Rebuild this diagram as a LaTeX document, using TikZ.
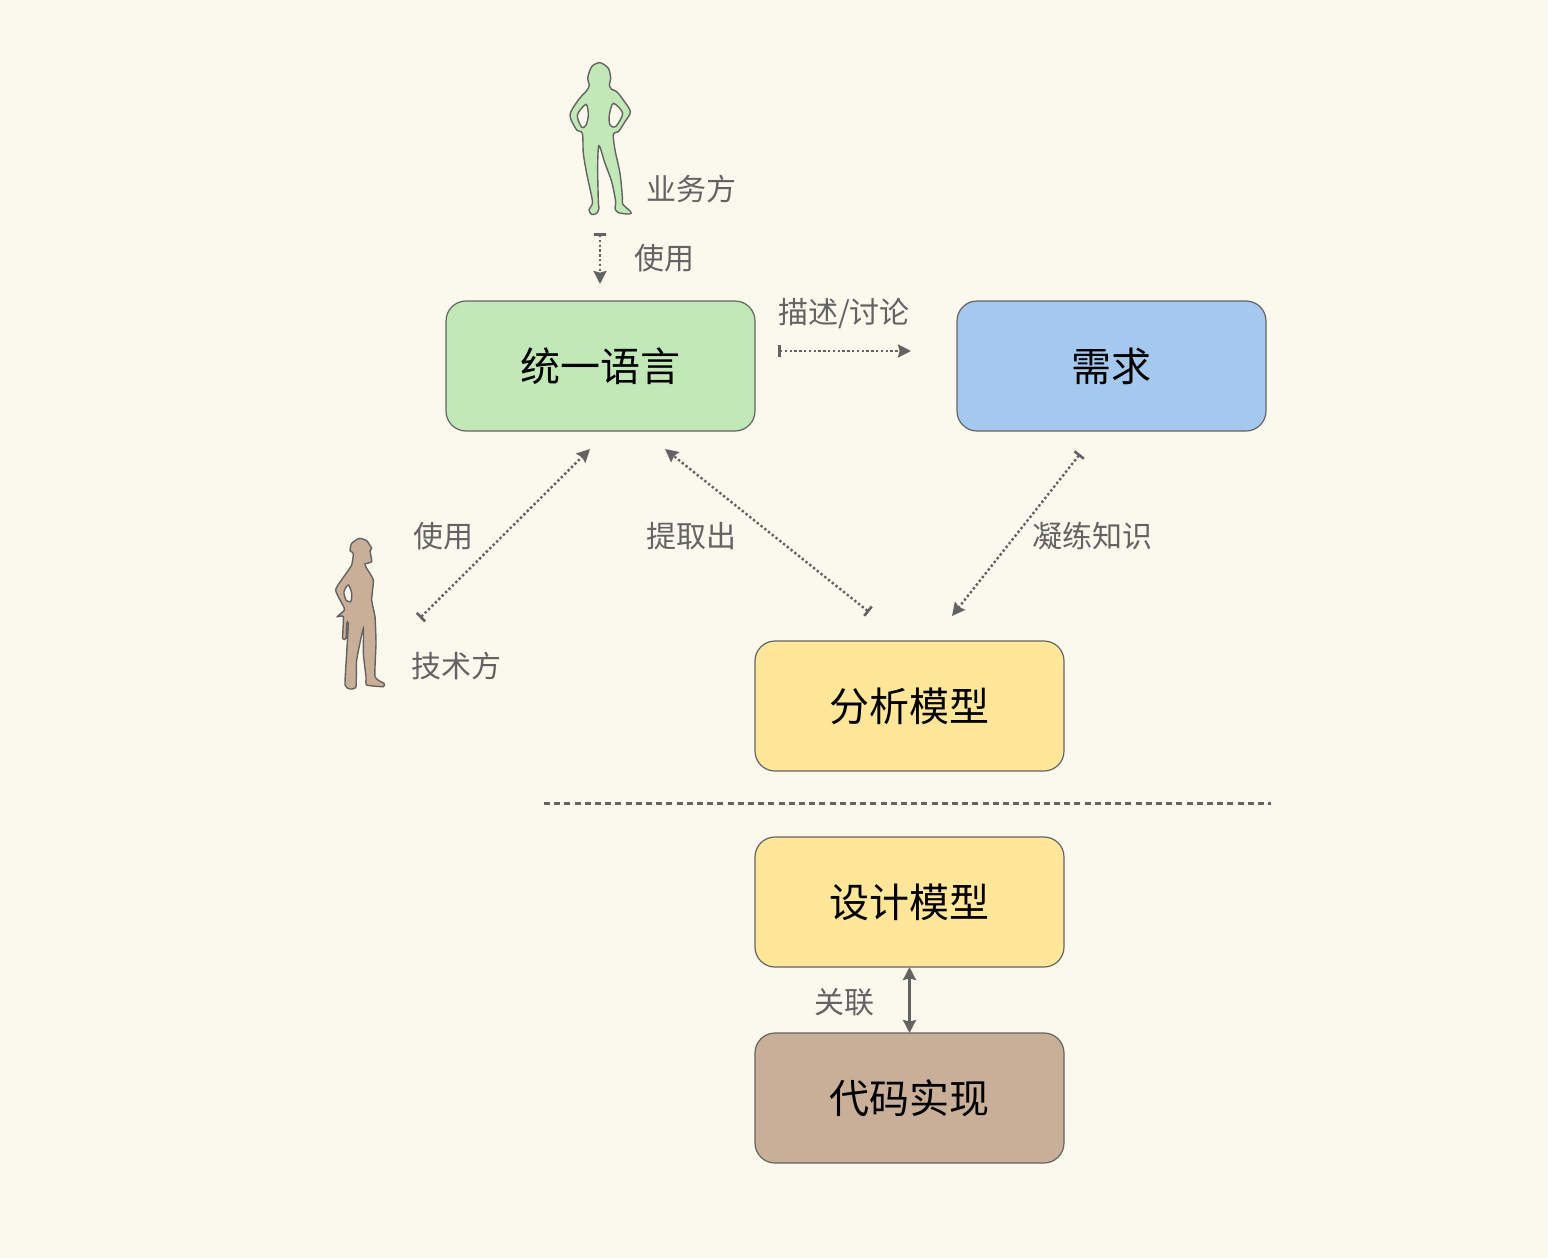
\documentclass[tikz,border=0pt]{standalone}
\usepackage{fontspec}
\setmainfont{Noto Sans CJK SC}
\usetikzlibrary{arrows.meta}
\definecolor{paper}{HTML}{FBF9EE}
\definecolor{ink}{HTML}{636363}
\definecolor{leaf}{HTML}{C2E8B8}
\definecolor{sky}{HTML}{A5C8EE}
\definecolor{sand}{HTML}{FFE698}
\definecolor{clay}{HTML}{C9AE98}
\tikzset{
	modelbox/.style={draw=ink, line width=0.6pt, outer sep=0pt, rounded corners=10pt, minimum width=154.5pt, minimum height=65pt, inner sep=0pt, font=\fontsize{20}{24}\selectfont, text=black},
	note/.style={text=ink, inner sep=0pt, font=\fontsize{15}{18}\selectfont},
	figureline/.style={draw=ink, line width=0.7pt, even odd rule},
	usage/.style={draw=ink, line width=1.2pt, dash pattern=on 1.2pt off 1.2pt, {Bar[width=6pt,line width=1.3pt]}-{Stealth[length=6.5pt,width=6.5pt,inset=0.8pt]}},
}
\begin{document}
\begin{tikzpicture}[x=0.5pt, y=-0.5pt, node distance=98pt]
	\fill[paper] (0,0) rectangle (1548,1258);
	\useasboundingbox (0,0) rectangle (1548,1258);
	\node[modelbox, fill=leaf] (lang) at (600.5,366) {统一语言};
	\node[modelbox, fill=sky] (req) [right of=lang, node distance=255.5pt] {需求};
	\node[modelbox, fill=sand] (analysis) at (909.5,706) {分析模型};
	\node[modelbox, fill=sand] (design) [below of=analysis] {设计模型};
	\node[modelbox, fill=clay] (code) [below of=design] {代码实现};

	\node[note] (bizlabel) at (691.5,189) {业务方};
	\node[note] (uselabel) at (664,258) {使用};
	\node[note] (desclabel) at (844,313.5) {描述/讨论};
	\node[note] (techuse) at (443,536) {使用};
	\node[note] (extract) at (691.5,536) {提取出};
	\node[note] (refine) at (1092,536) {凝练知识};
	\node[note] (techlabel) at (456,666) {技术方};
	\node[note] (assoc) at (844.5,1002) {关联};

	\coordinate (bizstart) at (600,233);
	\coordinate (bizend) at (600,284);
	\coordinate (descstart) at (778,351);
	\coordinate (descend) at (911,351);
	\coordinate (techstart) at (420,618);
	\coordinate (techend) at (590,449);
	\coordinate (extstart) at (869,612);
	\coordinate (extend) at (665,449);
	\coordinate (refstart) at (1080,454);
	\coordinate (refend) at (952,616);
	\coordinate (splitleft) at (544,803.5);
	\coordinate (splitright) at (1271,803.5);

	\path (bizstart) edge[usage] (bizend)
	      (descstart) edge[usage] (descend)
	      (techstart) edge[usage] (techend)
	      (extstart) edge[usage] (extend)
	      (refstart) edge[usage] (refend);
	\draw[ink, line width=1.1pt, dash pattern=on 3pt off 2.1pt] (splitleft) -- (splitright);
	\draw[ink, line width=1.3pt, {Stealth[length=6.5pt,width=6.5pt,inset=0.8pt]}-{Stealth[length=6.5pt,width=6.5pt,inset=0.8pt]}] (design) -- (code);

	\begin{scope}[shift={(550,50)}, x=0.16667pt, y=-0.16667pt]
		\draw[figureline, fill=leaf] plot[smooth cycle, tension=0.5] coordinates {(150,38) (175,55) (182,85) (178,105) (185,118) (200,125) (220,150) (241,185) (225,215) (205,245) (190,252) (195,300) (210,370) (217,440) (218,462) (242,485) (238,492) (205,488) (195,475) (197,455) (185,395) (165,340) (147,287) (143,350) (145,455) (147,475) (140,490) (125,493) (117,480) (127,462) (125,440) (110,370) (100,310) (97,250) (80,240) (60,195) (85,150) (110,122) (118,105) (113,85) (125,50)}
			plot[smooth cycle, tension=0.5] coordinates {(108,163) (115,195) (108,225) (95,232) (82,195)}
			plot[smooth cycle, tension=0.5] coordinates {(190,160) (178,195) (180,225) (197,230) (218,190)};
	\end{scope}
	\begin{scope}[shift={(320,520)}, x=0.16667pt, y=-0.16667pt]
		\draw[figureline, fill=clay] plot[smooth cycle, tension=0.3] coordinates {(118,55) (140,62) (155,85) (150,92) (155,125) (135,132) (140,145) (160,180) (155,240) (165,290) (168,370) (165,470) (192,490) (190,500) (140,495) (138,470) (130,400) (130,325) (110,420) (108,500) (90,507) (75,495) (80,400) (85,310) (80,310) (78,355) (68,355) (70,290) (52,290) (72,272) (72,262) (47,210) (75,165) (95,135) (100,100) (90,92) (95,70)}
			plot[smooth cycle, tension=0.5] coordinates {(85,195) (95,220) (92,245) (78,240) (72,215)};
	\end{scope}
\end{tikzpicture}
\end{document}
